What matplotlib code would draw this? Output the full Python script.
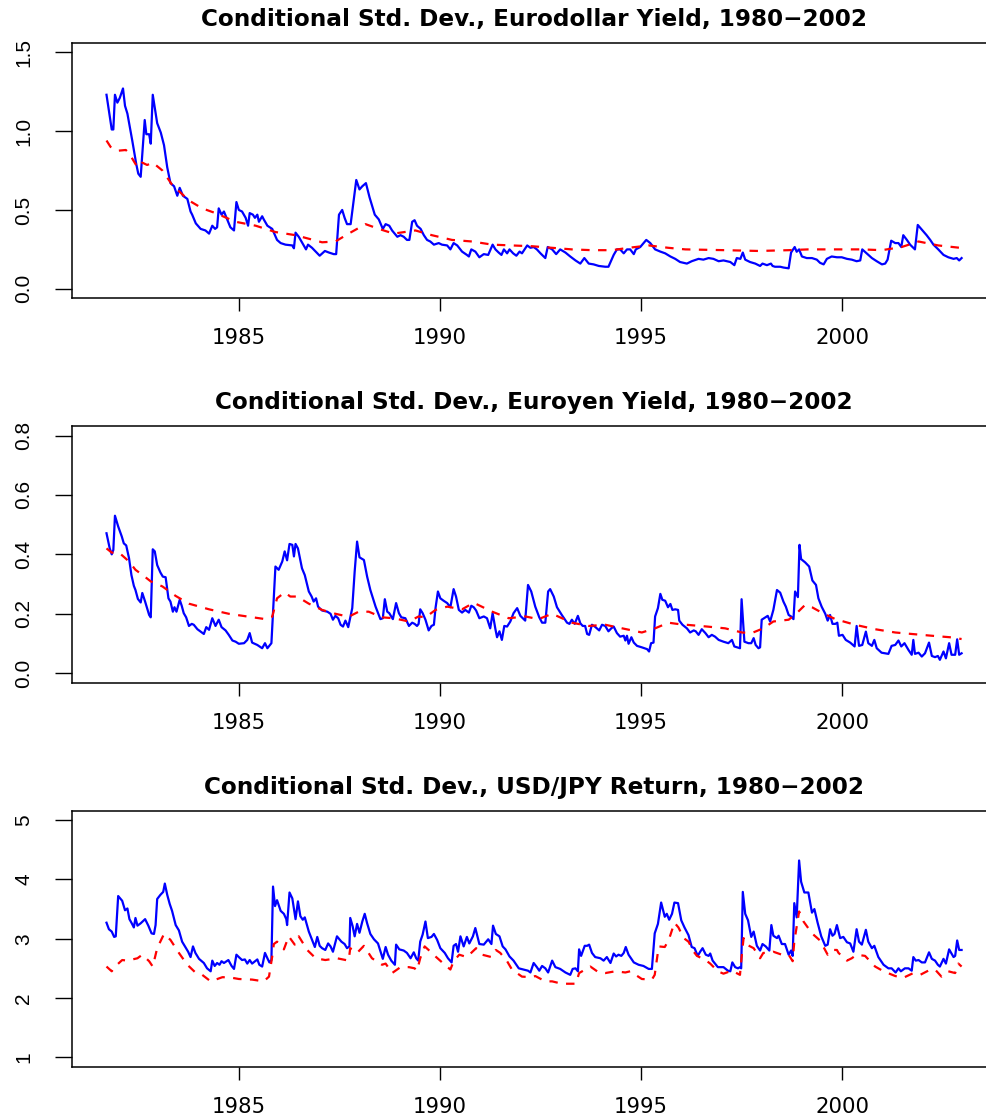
import matplotlib
matplotlib.use("Agg")
import matplotlib.pyplot as plt
from matplotlib.transforms import offset_copy

plt.rcParams['font.family'] = ['Liberation Sans', 'DejaVu Sans']

# ---------------- Panel 1: Eurodollar yield ----------------
ed_title = "Conditional Std. Dev., Eurodollar Yield, 1980\u22122002"
ed_blue_t = [1981.71,1981.84,1981.88,1981.92,1981.98,1982.04,1982.12,1982.17,1982.23,1982.35,1982.45,1982.50,1982.56,
             1982.66,1982.70,1982.77,1982.81,1982.86,1982.91,1982.97,1983.06,1983.14,1983.22,1983.30,1983.39,1983.47,
             1983.53,1983.61,1983.72,1983.80,1983.84,1983.93,1984.05,1984.17,1984.26,1984.34,1984.41,1984.46,1984.50,
             1984.57,1984.63,1984.71,1984.79,1984.88,1984.94,1985.00,1985.08,1985.17,1985.23,1985.27,1985.35,1985.40,
             1985.46,1985.50,1985.58,1985.62,1985.71,1985.83,1985.95,1986.04,1986.16,1986.33,1986.37,1986.41,1986.49,
             1986.58,1986.67,1986.72,1986.82,1986.91,1987.01,1987.14,1987.24,1987.36,1987.42,1987.49,1987.57,1987.63,
             1987.69,1987.78,1987.83,1987.92,1988.00,1988.07,1988.16,1988.25,1988.38,1988.48,1988.58,1988.65,
             1988.74,1988.81,1988.94,1989.02,1989.10,1989.18,1989.24,1989.31,1989.37,1989.43,1989.52,1989.60,1989.68,
             1989.76,1989.85,1989.97,1990.05,1990.18,1990.26,1990.34,1990.43,1990.55,1990.67,1990.72,1990.78,1990.88,
             1990.98,1991.09,1991.20,1991.31,1991.38,1991.46,1991.53,1991.59,1991.67,1991.73,1991.82,1991.90,1991.98,
             1992.04,1992.17,1992.25,1992.33,1992.41,1992.50,1992.58,1992.62,1992.68,1992.79,1992.89,1992.99,1993.12,
             1993.24,1993.37,1993.49,1993.59,1993.70,1993.82,1993.95,1994.11,1994.19,1994.32,1994.40,1994.48,1994.57,
             1994.65,1994.73,1994.82,1994.87,1994.98,1995.13,1995.23,1995.35,1995.48,1995.60,1995.73,1995.85,
             1995.97,1996.14,1996.26,1996.43,1996.55,1996.68,1996.80,1996.93,1997.05,1997.22,1997.32,1997.38,1997.47,
             1997.53,1997.59,1997.71,1997.84,1997.96,1998.02,1998.13,1998.23,1998.27,1998.33,1998.46,1998.54,1998.67,
             1998.73,1998.82,1998.87,1998.93,1999.00,1999.12,1999.25,1999.37,1999.45,1999.54,1999.62,1999.74,1999.87,
             1999.99,2000.12,2000.24,2000.36,2000.45,2000.50,2000.61,2000.74,2000.86,2000.99,2001.07,2001.13,2001.22,
             2001.32,2001.40,2001.47,2001.52,2001.61,2001.69,2001.77,2001.81,2001.88,2001.98,2002.10,2002.19,2002.27,
             2002.39,2002.52,2002.64,2002.77,2002.85,2002.91,2002.97]
ed_blue_v = [1.23,1.01,1.01,1.23,1.18,1.21,1.27,1.16,1.11,0.94,0.79,0.73,0.71,
             1.07,0.98,0.98,0.92,1.23,1.15,1.05,0.99,0.91,0.77,0.67,0.65,0.59,
             0.64,0.59,0.57,0.49,0.47,0.415,0.38,0.37,0.35,0.40,0.38,0.39,0.51,
             0.47,0.49,0.44,0.39,0.37,0.55,0.50,0.49,0.45,0.40,0.48,0.47,0.45,
             0.47,0.425,0.46,0.44,0.40,0.38,0.31,0.29,0.28,0.275,0.257,0.356,0.33,
             0.29,0.25,0.28,0.26,0.236,0.21,0.24,0.23,0.22,0.22,0.47,0.50,0.45,
             0.41,0.41,0.51,0.69,0.63,0.65,0.67,0.58,0.47,0.44,0.38,0.41,
             0.40,0.37,0.33,0.34,0.33,0.31,0.31,0.425,0.435,0.40,0.38,0.34,0.31,
             0.30,0.28,0.29,0.28,0.275,0.25,0.29,0.275,0.236,0.215,0.205,0.25,0.236,
             0.20,0.22,0.215,0.28,0.25,0.23,0.215,0.25,0.225,0.25,0.225,0.21,0.236,
             0.225,0.275,0.26,0.265,0.25,0.225,0.205,0.195,0.265,0.25,0.22,0.25,0.23,
             0.205,0.18,0.16,0.195,0.16,0.155,0.145,0.14,0.14,0.215,0.25,0.25,0.225,
             0.25,0.25,0.22,0.25,0.265,0.31,0.29,0.25,0.236,0.225,0.205,0.19,
             0.17,0.16,0.175,0.19,0.185,0.195,0.19,0.175,0.18,0.17,0.15,0.195,0.19,
             0.23,0.185,0.17,0.16,0.145,0.16,0.15,0.16,0.145,0.14,0.14,0.135,0.13,
             0.23,0.265,0.235,0.25,0.205,0.195,0.195,0.185,0.165,0.155,0.19,0.205,0.20,
             0.20,0.19,0.185,0.175,0.18,0.25,0.225,0.195,0.175,0.155,0.16,0.185,0.305,
             0.29,0.29,0.265,0.34,0.31,0.28,0.26,0.25,0.405,0.375,0.34,0.31,0.28,
             0.25,0.215,0.20,0.19,0.195,0.18,0.195]
ed_red_t = [1981.71,1981.81,1981.98,1982.19,1982.27,1982.48,1982.60,1982.72,1982.86,1983.10,1983.34,1983.76,
            1984.09,1984.42,1984.92,1985.42,1985.91,1986.41,1987.07,1987.40,1987.73,1988.15,1988.48,1988.85,
            1989.39,1989.80,1990.30,1990.80,1991.30,1991.79,1992.29,1992.79,1993.28,1993.78,1994.28,1994.69,
            1995.19,1995.68,1996.10,1997.09,1997.92,1998.67,1999.16,1999.99,2000.49,2000.99,2001.48,2001.90,
            2002.39,2002.93]
ed_red_v = [0.94,0.90,0.875,0.88,0.86,0.77,0.80,0.785,0.80,0.75,0.66,0.56,
            0.51,0.48,0.425,0.40,0.36,0.34,0.295,0.30,0.35,0.41,0.38,0.35,
            0.37,0.34,0.31,0.30,0.28,0.275,0.27,0.26,0.25,0.245,0.245,0.26,
            0.275,0.26,0.25,0.245,0.24,0.245,0.25,0.25,0.25,0.245,0.265,0.30,
            0.275,0.26]
ed_yticks = [0.0, 0.5, 1.0, 1.5]
ed_yticklabels = ["0.0", "0.5", "1.0", "1.5"]

# ---------------- Panel 2: Euroyen yield ----------------
ey_title = "Conditional Std. Dev., Euroyen Yield, 1980\u22122002"
ey_blue_t = [1981.71,1981.79,1981.84,1981.88,1981.92,1982.00,1982.09,1982.14,1982.20,1982.27,1982.33,1982.39,1982.43,
             1982.49,1982.56,1982.60,1982.67,1982.72,1982.77,1982.81,1982.86,1982.91,1982.97,1983.05,1983.11,1983.18,
             1983.25,1983.30,1983.36,1983.40,1983.45,1983.53,1983.58,1983.63,1983.69,1983.76,1983.83,1983.88,1983.97,
             1984.05,1984.13,1984.19,1984.26,1984.34,1984.42,1984.50,1984.57,1984.67,1984.75,1984.84,1984.92,1985.00,
             1985.13,1985.21,1985.27,1985.33,1985.46,1985.58,1985.65,1985.71,1985.81,1985.91,1985.99,1986.08,1986.14,
             1986.20,1986.26,1986.33,1986.37,1986.41,1986.47,1986.57,1986.64,1986.74,1986.81,1986.86,1986.92,1986.97,
             1987.07,1987.20,1987.28,1987.34,1987.40,1987.47,1987.53,1987.59,1987.65,1987.72,1987.82,1987.88,1987.94,
             1988.00,1988.11,1988.19,1988.27,1988.40,1988.52,1988.58,1988.63,1988.69,1988.74,
             1988.83,1988.91,1988.98,1989.04,1989.14,1989.23,1989.31,1989.37,1989.43,1989.47,1989.51,1989.57,1989.64,
             1989.72,1989.79,1989.85,1989.89,1989.95,1990.01,1990.09,1990.18,1990.26,1990.34,1990.40,1990.47,1990.55,
             1990.63,1990.72,1990.78,1990.84,1990.90,1990.98,1991.09,1991.17,1991.25,1991.31,1991.38,1991.42,1991.48,
             1991.54,1991.60,1991.67,1991.75,1991.83,1991.92,1992.00,1992.12,1992.19,1992.27,1992.37,1992.47,1992.54,
             1992.62,1992.69,1992.74,1992.83,1992.91,1993.03,1993.16,1993.22,1993.28,1993.35,1993.43,1993.49,1993.55,
             1993.61,1993.66,1993.71,1993.78,1993.85,1993.90,1993.96,1994.03,1994.11,1994.19,1994.26,1994.32,1994.40,
             1994.48,1994.57,1994.61,1994.65,1994.69,1994.76,1994.82,1994.90,1995.02,1995.15,1995.20,1995.25,1995.31,
             1995.35,1995.42,1995.48,1995.53,1995.60,1995.67,1995.73,1995.78,1995.85,1995.92,
             1995.95,1996.03,1996.14,1996.22,1996.31,1996.36,1996.43,1996.51,1996.60,1996.68,1996.76,1996.84,1996.93,
             1997.05,1997.17,1997.26,1997.32,1997.46,1997.50,1997.57,1997.67,1997.74,1997.80,1997.85,1997.92,1997.96,
             1998.00,1998.09,1998.15,1998.21,1998.29,1998.38,1998.46,1998.54,1998.60,1998.67,1998.73,1998.79,1998.83,
             1998.90,1998.94,1998.98,1999.08,1999.18,1999.26,1999.35,1999.41,1999.49,1999.58,1999.64,1999.70,1999.76,
             1999.83,1999.88,1999.92,2000.01,2000.09,2000.20,2000.31,2000.36,2000.42,2000.50,2000.59,2000.65,2000.74,
             2000.80,2000.86,2000.98,2001.15,2001.23,2001.32,2001.40,2001.47,2001.55,2001.65,2001.73,2001.77,2001.81,
             2001.90,2001.98,2002.06,2002.16,2002.23,2002.31,2002.38,2002.43,2002.52,2002.58,2002.66,2002.72,2002.81,
             2002.86,2002.91,2002.97]
ey_blue_v = [0.471,0.42,0.40,0.415,0.53,0.494,0.46,0.437,0.43,0.387,0.33,0.294,0.28,
             0.25,0.238,0.27,0.241,0.219,0.196,0.188,0.417,0.41,0.364,0.339,0.325,0.323,
             0.252,0.241,0.207,0.222,0.207,0.247,0.227,0.202,0.188,0.159,0.166,0.163,0.148,
             0.14,0.132,0.155,0.146,0.185,0.159,0.18,0.155,0.144,0.129,0.11,0.106,0.099,
             0.101,0.112,0.135,0.103,0.095,0.084,0.101,0.084,0.101,0.359,0.348,0.376,0.41,
             0.38,0.435,0.432,0.393,0.435,0.42,0.353,0.33,0.275,0.258,0.241,0.252,0.224,
             0.211,0.207,0.20,0.18,0.193,0.185,0.163,0.157,0.177,0.155,0.219,0.342,0.443,
             0.39,0.381,0.325,0.28,0.224,0.182,0.185,0.249,0.207,0.202,
             0.182,0.236,0.202,0.188,0.185,0.159,0.17,0.166,0.159,0.166,0.215,0.202,0.18,
             0.144,0.159,0.163,0.219,0.275,0.252,0.244,0.236,0.222,0.283,0.258,0.213,0.204,
             0.213,0.204,0.227,0.222,0.211,0.185,0.191,0.185,0.151,0.202,0.148,0.121,0.141,
             0.112,0.159,0.157,0.174,0.202,0.219,0.193,0.177,0.297,0.275,0.224,0.188,0.17,
             0.17,0.275,0.283,0.258,0.222,0.196,0.17,0.166,0.18,0.166,0.193,0.168,0.159,
             0.159,0.132,0.129,0.163,0.157,0.151,0.144,0.163,0.159,0.141,0.151,0.157,0.135,
             0.123,0.126,0.11,0.126,0.099,0.121,0.103,0.092,0.087,0.081,0.073,0.101,0.103,
             0.191,0.219,0.267,0.247,0.244,0.222,0.233,0.213,0.215,0.213,
             0.177,0.163,0.151,0.137,0.144,0.141,0.129,0.148,0.135,0.121,0.129,0.123,0.112,
             0.106,0.101,0.112,0.09,0.084,0.249,0.106,0.101,0.101,0.118,0.095,0.084,0.087,
             0.18,0.188,0.193,0.174,0.213,0.28,0.271,0.241,0.224,0.196,0.191,0.182,0.275,
             0.256,0.432,0.384,0.373,0.359,0.312,0.297,0.252,0.224,0.20,0.177,0.196,0.166,
             0.166,0.17,0.126,0.129,0.112,0.103,0.09,0.159,0.092,0.095,0.14,0.101,0.092,
             0.112,0.084,0.069,0.065,0.092,0.095,0.11,0.09,0.101,0.078,0.062,0.112,0.065,
             0.069,0.056,0.067,0.103,0.058,0.054,0.058,0.045,0.073,0.05,0.101,0.062,0.062,
             0.114,0.062,0.067]
ey_red_t = [1981.71,1981.84,1982.02,1982.27,1982.43,1982.64,1982.81,1983.10,1983.43,1983.76,1984.26,1984.75,
            1985.25,1985.66,1985.83,1985.95,1986.14,1986.28,1986.45,1986.74,1987.07,1987.40,1987.73,1987.98,
            1988.23,1988.56,1988.85,1989.23,1989.47,1989.64,1989.89,1990.18,1990.55,1990.84,1991.30,1991.71,
            1992.12,1992.45,1992.79,1993.28,1993.70,1994.11,1994.53,1995.02,1995.35,1995.68,1995.95,1996.64,
            1997.09,1997.51,1997.75,1998.04,1998.29,1998.67,1998.87,1999.08,1999.25,1999.49,1999.83,2000.32,
            2000.82,2001.32,2001.73,2002.23,2002.68,2002.97]
ey_red_v = [0.42,0.406,0.406,0.376,0.348,0.327,0.309,0.292,0.26,0.234,0.215,0.20,
            0.19,0.182,0.19,0.252,0.272,0.258,0.258,0.234,0.213,0.20,0.19,0.207,
            0.207,0.188,0.185,0.174,0.191,0.188,0.213,0.224,0.215,0.237,0.207,0.185,
            0.191,0.182,0.20,0.17,0.159,0.163,0.151,0.137,0.151,0.17,0.165,0.157,
            0.151,0.137,0.135,0.151,0.174,0.18,0.202,0.23,0.222,0.204,0.182,0.163,
            0.148,0.137,0.132,0.126,0.121,0.115]
ey_yticks = [0.0, 0.2, 0.4, 0.6, 0.8]
ey_yticklabels = ["0.0", "0.2", "0.4", "0.6", "0.8"]

# ---------------- Panel 3: USD/JPY return ----------------
fx_title = "Conditional Std. Dev., USD/JPY Return, 1980\u22122002"
fx_blue_t = [1981.71,1981.77,1981.84,1981.90,1981.94,1982.00,1982.10,1982.17,1982.23,1982.28,1982.33,1982.39,1982.43,
             1982.48,1982.56,1982.67,1982.75,1982.83,1982.89,1982.93,1982.97,1983.05,1983.12,1983.16,1983.22,1983.28,
             1983.34,1983.43,1983.51,1983.59,1983.66,1983.74,1983.80,1983.86,1983.92,1984.01,1984.13,1984.21,1984.30,
             1984.34,1984.40,1984.46,1984.52,1984.57,1984.63,1984.74,1984.82,1984.88,1984.94,1985.00,1985.08,1985.15,
             1985.21,1985.27,1985.33,1985.42,1985.46,1985.51,1985.58,1985.65,1985.71,1985.76,1985.81,1985.85,1985.90,
             1985.95,1986.04,1986.12,1986.18,1986.20,1986.26,1986.33,1986.41,1986.47,1986.53,1986.59,1986.64,1986.74,
             1986.82,1986.89,1986.95,1987.01,1987.07,1987.15,1987.22,1987.28,1987.34,1987.44,1987.55,1987.63,1987.69,
             1987.75,1987.77,1987.83,1987.88,1987.94,1988.00,1988.07,1988.13,1988.19,1988.27,1988.36,1988.46,1988.58,
             1988.65,1988.71,1988.79,1988.88,1988.91,1988.99,1989.10,1989.18,1989.27,1989.35,1989.41,1989.46,1989.51,
             1989.57,1989.64,1989.70,1989.79,1989.85,1989.93,1990.01,1990.12,1990.20,1990.29,1990.34,1990.40,1990.45,
             1990.51,1990.59,1990.67,1990.73,1990.82,1990.88,1990.98,1991.09,1991.20,1991.28,1991.32,1991.39,1991.48,
             1991.56,1991.63,1991.73,1991.83,1991.96,1992.08,1992.19,1992.25,1992.33,1992.41,1992.47,1992.54,1992.62,
             1992.69,1992.79,1992.87,1992.99,1993.12,1993.24,1993.30,1993.37,1993.43,1993.46,1993.51,1993.60,1993.66,
             1993.71,1993.78,1993.86,1993.99,1994.07,1994.15,1994.24,1994.32,1994.38,1994.44,1994.51,1994.57,1994.62,
             1994.69,1994.82,1994.94,1995.06,1995.19,1995.27,1995.34,1995.42,1995.50,1995.59,1995.64,1995.70,1995.77,
             1995.83,1995.92,1996.00,1996.08,1996.18,1996.26,1996.33,1996.41,1996.47,1996.53,1996.61,1996.68,1996.72,
             1996.78,1996.91,1997.05,1997.16,1997.22,1997.27,1997.34,1997.41,1997.46,1997.49,1997.53,1997.59,1997.66,
             1997.74,1997.80,1997.88,1997.96,1998.02,1998.10,1998.19,1998.24,1998.29,1998.38,1998.42,1998.50,1998.58,
             1998.67,1998.73,1998.77,1998.81,1998.87,1998.93,1998.98,1999.06,1999.16,1999.25,1999.31,1999.39,1999.48,
             1999.58,1999.64,1999.70,1999.76,1999.81,1999.87,1999.95,2000.03,2000.12,2000.20,2000.28,2000.36,2000.42,
             2000.49,2000.59,2000.65,2000.74,2000.80,2000.90,2001.03,2001.15,2001.23,2001.33,2001.40,2001.46,2001.56,
             2001.65,2001.73,2001.77,2001.83,2001.90,2001.98,2002.06,2002.16,2002.23,2002.31,2002.38,2002.43,2002.52,
             2002.58,2002.66,2002.77,2002.81,2002.86,2002.91,2002.97]
fx_blue_v = [3.27,3.16,3.12,3.03,3.04,3.72,3.64,3.48,3.51,3.33,3.27,3.19,3.35,
             3.22,3.26,3.33,3.22,3.09,3.08,3.23,3.67,3.74,3.79,3.93,3.74,3.59,
             3.47,3.23,3.14,2.95,2.87,2.78,2.69,2.87,2.76,2.66,2.59,2.50,2.45,
             2.63,2.54,2.59,2.56,2.62,2.59,2.64,2.54,2.49,2.73,2.69,2.64,2.65,
             2.58,2.64,2.58,2.63,2.65,2.56,2.53,2.76,2.67,2.60,2.64,3.88,3.55,
             3.65,3.47,3.42,3.33,3.23,3.78,3.68,3.33,3.63,3.38,3.32,3.36,3.12,
             2.98,2.86,3.03,2.88,2.84,2.81,2.92,2.87,2.78,3.04,2.95,2.91,2.84,
             2.87,3.35,3.21,3.04,3.25,3.10,3.29,3.42,3.26,3.08,2.99,2.92,2.66,
             2.86,2.73,2.63,2.56,2.90,2.82,2.80,2.76,2.67,2.77,2.67,2.63,2.95,
             3.07,3.29,3.01,3.03,3.08,2.98,2.84,2.76,2.67,2.60,2.88,2.91,2.78,
             3.04,2.87,3.03,2.92,3.04,3.18,2.91,2.90,2.99,2.91,3.22,3.08,3.04,
             2.87,2.82,2.70,2.63,2.50,2.48,2.46,2.43,2.59,2.52,2.46,2.54,2.50,
             2.43,2.63,2.52,2.49,2.43,2.39,2.49,2.50,2.45,2.82,2.71,2.88,2.88,
             2.90,2.76,2.69,2.67,2.63,2.69,2.59,2.75,2.70,2.73,2.71,2.76,2.86,
             2.73,2.60,2.56,2.54,2.49,2.49,3.09,3.25,3.61,3.37,3.42,3.32,3.42,
             3.61,3.60,3.31,3.19,3.06,2.86,2.84,2.71,2.78,2.84,2.73,2.71,2.75,
             2.63,2.52,2.52,2.46,2.45,2.60,2.52,2.50,2.52,2.50,3.79,3.42,3.31,
             3.03,3.12,2.88,2.80,2.91,2.87,2.80,3.23,3.05,3.01,3.05,2.91,2.91,
             2.73,2.80,2.71,3.60,3.36,4.32,3.96,3.78,3.78,3.44,3.50,3.27,3.04,
             2.88,2.90,3.16,3.05,3.08,3.23,3.01,3.03,2.94,2.92,2.78,3.16,2.95,
             2.90,3.15,2.95,2.84,2.88,2.69,2.56,2.50,2.50,2.43,2.50,2.45,2.50,
             2.50,2.46,2.69,2.63,2.64,2.60,2.60,2.77,2.66,2.63,2.56,2.53,2.66,
             2.58,2.82,2.69,2.71,2.97,2.81,2.81]
fx_red_t = [1981.71,1981.84,1981.94,1982.10,1982.23,1982.35,1982.48,1982.60,1982.77,1982.86,1982.97,1983.14,
            1983.30,1983.51,1983.72,1983.92,1984.09,1984.30,1984.59,1984.75,1985.00,1985.33,1985.62,1985.75,
            1985.83,1985.87,1985.95,1986.12,1986.24,1986.39,1986.49,1986.70,1986.91,1987.15,1987.44,1987.73,
            1987.77,1987.94,1988.11,1988.31,1988.56,1988.65,1988.81,1989.02,1989.23,1989.37,1989.43,1989.51,
            1989.62,1989.80,1989.89,1990.12,1990.26,1990.34,1990.48,1990.67,1990.90,1991.05,1991.28,1991.39,
            1991.50,1991.67,1991.79,1992.04,1992.29,1992.37,1992.62,1992.79,1993.03,1993.24,1993.38,1993.46,
            1993.74,1993.95,1994.11,1994.36,1994.61,1994.73,1995.02,1995.27,1995.34,1995.44,1995.59,1995.69,
            1995.83,1995.93,1996.06,1996.18,1996.31,1996.39,1996.60,1996.72,1996.91,1997.05,1997.26,1997.46,
            1997.51,1997.55,1997.63,1997.80,1997.96,1998.04,1998.21,1998.29,1998.50,1998.67,1998.77,1998.81,
            1998.93,1999.04,1999.25,1999.45,1999.64,1999.74,1999.87,1999.91,2000.12,2000.24,2000.36,2000.57,
            2000.82,2001.03,2001.32,2001.52,2001.77,2001.94,2002.14,2002.31,2002.47,2002.64,2002.81,2002.89,
            2002.97]
fx_red_v = [2.53,2.45,2.54,2.64,2.63,2.65,2.67,2.73,2.62,2.53,2.84,3.08,
            2.98,2.76,2.56,2.43,2.39,2.28,2.35,2.35,2.32,2.31,2.28,2.36,
            2.70,2.91,2.95,2.82,3.04,2.90,3.04,2.81,2.67,2.64,2.67,2.63,
            2.84,2.76,2.88,2.67,2.56,2.58,2.42,2.52,2.52,2.50,2.46,2.67,
            2.87,2.76,2.70,2.56,2.48,2.62,2.73,2.69,2.84,2.73,2.69,2.81,
            2.76,2.62,2.48,2.36,2.35,2.37,2.28,2.28,2.24,2.24,2.24,2.42,
            2.53,2.43,2.42,2.45,2.43,2.45,2.32,2.31,2.39,2.87,2.86,2.98,
            3.27,3.19,3.01,2.95,2.78,2.71,2.64,2.58,2.45,2.41,2.46,2.39,
            2.76,3.01,2.90,2.84,2.67,2.76,2.76,2.78,2.73,2.73,2.62,2.95,
            3.46,3.29,3.09,2.97,2.73,2.81,2.81,2.76,2.63,2.67,2.73,2.71,
            2.53,2.45,2.37,2.34,2.42,2.39,2.46,2.48,2.36,2.45,2.42,2.58,
            2.53]
fx_yticks = [1, 2, 3, 4, 5]
fx_yticklabels = ["1", "2", "3", "4", "5"]

x_ticks = [1985, 1990, 1995, 2000]
x_ticklabels = ["1985", "1990", "1995", "2000"]

panels = [
    (ed_title, ed_blue_t, ed_blue_v, ed_red_t, ed_red_v, ed_yticks, ed_yticklabels, (0.0, 1.5)),
    (ey_title, ey_blue_t, ey_blue_v, ey_red_t, ey_red_v, ey_yticks, ey_yticklabels, (0.0, 0.8)),
    (fx_title, fx_blue_t, fx_blue_v, fx_red_t, fx_red_v, fx_yticks, fx_yticklabels, (1.0, 5.0)),
]

W, H = 987, 1120
fig = plt.figure(figsize=(W / 100, H / 100), dpi=100)
fig.patch.set_facecolor("white")

# axes boxes in pixel coordinates (left, top, right, bottom)
boxes = [(72.3, 42.7, 995.8, 298.3), (72.3, 426.0, 995.8, 682.7), (72.3, 810.7, 995.8, 1066.7)]

wide = ['DejaVu Sans']
narrow = ['Liberation Sans', 'DejaVu Sans']

for (title, bt, bv, rt, rv, yt, ytl, ylim), (l, t, r, b) in zip(panels, boxes):
    ax = fig.add_axes([l / W, 1 - b / H, (r - l) / W, (b - t) / H])
    ax.plot(bt, bv, color="#0000FF", lw=1.6, solid_joinstyle="round")
    ax.plot(rt, rv, color="#FF0000", lw=1.6, dashes=(3.8, 3.8))
    pad = 0.04 * (ylim[1] - ylim[0])
    ax.set_ylim(ylim[0] - pad, ylim[1] + pad)
    xmin, xmax = min(bt), max(bt)
    xp = 0.04 * (xmax - xmin)
    ax.set_xlim(xmin - xp, xmax + xp)
    ax.set_xticks(x_ticks)
    ax.set_xticklabels(x_ticklabels, fontfamily=wide, fontsize=15.3)
    ax.set_yticks(yt)
    ax.set_yticklabels(ytl, rotation=90, va="center", fontfamily=narrow, fontsize=15)
    ax.tick_params(axis="x", length=9.1, width=1.0, pad=12.5, direction="out")
    ax.tick_params(axis="y", length=12, width=1.0, pad=16, direction="out")
    for s in ax.spines.values():
        s.set_linewidth(1.1)
    ax.spines['right'].set_visible(False)
    ax.text(0.5, 1.0, title,
            transform=offset_copy(ax.transAxes, fig=fig, x=0, y=16.8, units="points"),
            ha="center", va="center", fontsize=16.7, fontweight="bold", fontfamily=wide)
    ax.set_facecolor("white")

fig.savefig("out.png", dpi=100)
